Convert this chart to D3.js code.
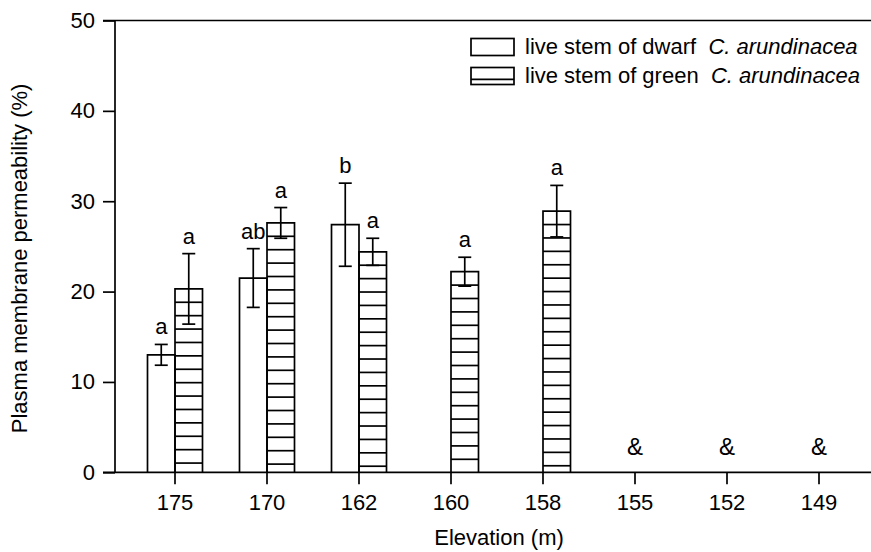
<!DOCTYPE html>
<html><head><meta charset="utf-8">
<script src="https://cdn.jsdelivr.net/npm/d3@7"></script>
<style>
html,body{margin:0;padding:0;background:#fff;}
text{font-family:"Liberation Sans",Arial,sans-serif;fill:#000;}
</style></head>
<body>
<svg id="chart" width="871" height="552"></svg>
<script>
const categories = ["175","170","162","160","158","155","152","149"];
const dwarfValues = [13.0, 21.5, 27.4, null, null, null, null, null];
const dwarfErrors = [1.15, 3.25, 4.6, null, null, null, null, null];
const dwarfLetters = ["a","ab","b", "", "", "", "", ""];
const greenValues = [20.3, 27.6, 24.4, 22.2, 28.9, null, null, null];
const greenErrors = [3.9, 1.7, 1.5, 1.6, 2.85, null, null, null];
const greenLetters = ["a","a","a","a","a","","",""];
const missingMarks = ["", "", "", "", "", "&", "&", "&"];
const yTicks = [0,10,20,30,40,50];
const legendLabels = [["live stem of dwarf  ","C. arundinacea"],["live stem of green  ","C. arundinacea"]];

(function(){
const svg = d3.select("#chart");
const mLeft = 115, mRight = 871, mTop = 20.5, mBottom = 472.3;
const x = d3.scaleBand().domain(categories).range([129, 865]).paddingInner(0).paddingOuter(0);
const y = d3.scaleLinear().domain([0,50]).range([mBottom, mTop]);
const bw = 27.5;
const hatchStep = 13.4;
const sw = 1.7;
const fs = 22;

svg.append("line").attr("x1",103).attr("x2",mRight).attr("y1",y(50)).attr("y2",y(50))
  .attr("stroke","#000").attr("stroke-width",sw);

function drawBar(cx0, v, hatched){
  const yt = y(v);
  const g = svg.append("g");
  if(hatched){
    for(let yy = yt + hatchStep; yy < mBottom - 2; yy += hatchStep){
      g.append("line").attr("x1",cx0).attr("x2",cx0+bw).attr("y1",yy).attr("y2",yy)
        .attr("stroke","#000").attr("stroke-width",sw);
    }
  }
  g.append("path").attr("d",`M${cx0},${mBottom}V${yt}H${cx0+bw}V${mBottom}`)
    .attr("fill","none").attr("stroke","#000").attr("stroke-width",sw);
}
function drawErr(cx, v, e){
  const g = svg.append("g").attr("stroke","#000").attr("stroke-width",sw);
  g.append("line").attr("x1",cx).attr("x2",cx).attr("y1",y(v+e)).attr("y2",y(v-e));
  g.append("line").attr("x1",cx-6.5).attr("x2",cx+6.5).attr("y1",y(v+e)).attr("y2",y(v+e));
  g.append("line").attr("x1",cx-6.5).attr("x2",cx+6.5).attr("y1",y(v-e)).attr("y2",y(v-e));
}
categories.forEach((c,i)=>{
  const cx = x(c) + x.bandwidth()/2;
  if(dwarfValues[i]!=null){
    drawBar(cx-bw, dwarfValues[i], false);
    drawErr(cx-bw/2, dwarfValues[i], dwarfErrors[i]);
    svg.append("text").attr("x",cx-bw/2).attr("y",y(dwarfValues[i]+dwarfErrors[i])-10)
      .attr("text-anchor","middle").attr("font-size",fs).text(dwarfLetters[i]);
  }
  if(greenValues[i]!=null){
    drawBar(cx, greenValues[i], true);
    drawErr(cx+bw/2, greenValues[i], greenErrors[i]);
    svg.append("text").attr("x",cx+bw/2).attr("y",y(greenValues[i]+greenErrors[i])-10)
      .attr("text-anchor","middle").attr("font-size",fs).text(greenLetters[i]);
  }
  if(missingMarks[i]){
    svg.append("text").attr("x",cx).attr("y",y(0)-17)
      .attr("text-anchor","middle").attr("font-size",24).text(missingMarks[i]);
  }
});

const yAxis = svg.append("g").attr("transform",`translate(${mLeft},0)`)
  .call(d3.axisLeft(y).tickValues(yTicks).tickSize(12).tickPadding(8));
yAxis.select(".domain").remove();
yAxis.selectAll(".tick line").attr("stroke","#000").attr("stroke-width",sw);
yAxis.selectAll(".tick text").attr("font-size",fs).attr("font-family","Liberation Sans, Arial, sans-serif").attr("fill","#000");
svg.append("line").attr("x1",mLeft).attr("x2",mLeft).attr("y1",y(50)).attr("y2",y(0))
  .attr("stroke","#000").attr("stroke-width",sw);

const xAxis = svg.append("g").attr("transform",`translate(0,${mBottom})`)
  .call(d3.axisBottom(x).tickSize(12).tickPadding(10));
xAxis.select(".domain").remove();
xAxis.selectAll(".tick line").attr("stroke","#000").attr("stroke-width",sw);
xAxis.selectAll(".tick text").attr("font-size",fs).attr("font-family","Liberation Sans, Arial, sans-serif").attr("fill","#000");
svg.append("line").attr("x1",103).attr("x2",mRight).attr("y1",mBottom).attr("y2",mBottom)
  .attr("stroke","#000").attr("stroke-width",sw);

svg.append("text").attr("x",499).attr("y",545).attr("text-anchor","middle")
  .attr("font-size",fs).text("Elevation (m)");
svg.append("text").attr("transform",`translate(27,${(mTop+mBottom)/2 + 12}) rotate(-90)`)
  .attr("text-anchor","middle").attr("font-size",fs).text("Plasma membrane permeability (%)");

const legendRows = [{y0:38.5, hatched:false},{y0:67.5, hatched:true}];
legendRows.forEach((r,i)=>{
  const g = svg.append("g");
  if(r.hatched){
    for(let yy = r.y0 + hatchStep - 1.5; yy < r.y0 + 17; yy += hatchStep){
      g.append("line").attr("x1",471).attr("x2",514).attr("y1",yy).attr("y2",yy)
        .attr("stroke","#000").attr("stroke-width",sw);
    }
  }
  g.append("rect").attr("x",471).attr("y",r.y0).attr("width",43).attr("height",17)
    .attr("fill","none").attr("stroke","#000").attr("stroke-width",sw);
  const t = g.append("text").attr("x",525).attr("y",r.y0+15.5).attr("font-size",fs);
  t.append("tspan").attr("xml:space","preserve").style("white-space","pre").text(legendLabels[i][0]);
  t.append("tspan").attr("font-style","italic").text(legendLabels[i][1]);
});
})();
</script>
</body></html>
